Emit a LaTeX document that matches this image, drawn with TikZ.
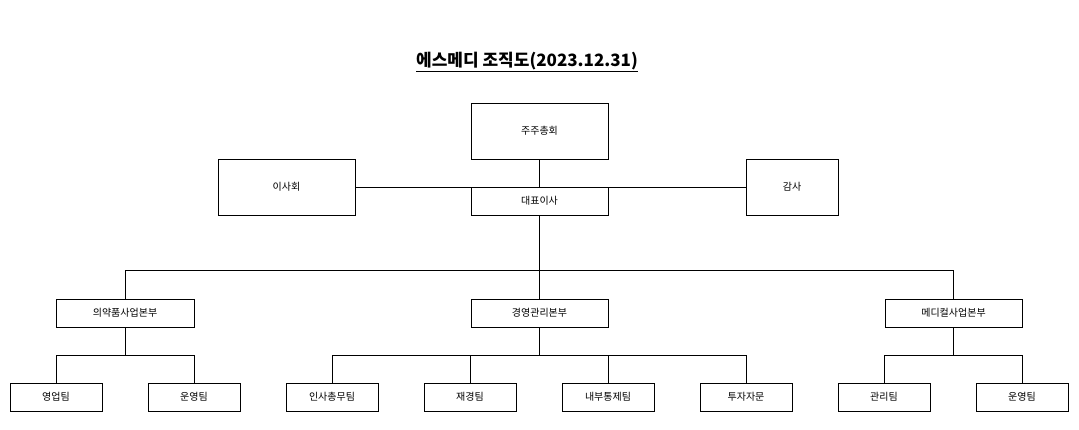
\documentclass[tikz,border=0pt]{standalone}
\usepackage{fontspec}
\setmainfont{Noto Sans CJK KR}
\begin{document}
\begin{tikzpicture}[x=1pt,y=-1pt,
 bx/.style={draw,line width=0.8pt,font=\fontsize{10}{11}\selectfont,inner sep=0pt},
 ln/.style={line width=0.8pt}]
\useasboundingbox (0,0) rectangle (1079,430);
\node (t) at (527,62) {\fontsize{17}{19}\selectfont\bfseries\underline{에스메디 조직도(2023.12.31)}};
\newcommand\bxn[6]{\node[bx,minimum width=#4-#2,minimum height=#5-#3] (#1) at ({(#2+#4)/2},{(#3+#5)/2}) {#6};}
\bxn{a}{471}{103}{608}{159}{주주총회}
\bxn{b}{218}{159}{355}{215}{이사회}
\bxn{c}{746}{159}{838}{215}{감사}
\bxn{d}{471}{187}{608}{215}{대표이사}
\bxn{e}{56}{299}{194}{327}{의약품사업본부}
\bxn{f}{471}{299}{608}{327}{경영관리본부}
\bxn{g}{885}{299}{1022}{327}{메디컬사업본부}
\bxn{h1}{10}{383}{102}{411}{영업팀}
\bxn{h2}{148}{383}{240}{411}{운영팀}
\bxn{h3}{286}{383}{378}{411}{인사총무팀}
\bxn{h4}{424}{383}{516}{411}{재경팀}
\bxn{h5}{562}{383}{654}{411}{내부통제팀}
\bxn{h6}{700}{383}{792}{411}{투자자문}
\bxn{h7}{838}{383}{930}{411}{관리팀}
\bxn{h8}{976}{383}{1068}{411}{운영팀}
\draw[ln] (a.south) -- (d.north);
\draw[ln] (b.east) -- (c.west);
\coordinate (j) at (539.5,270);
\draw[ln] (d.south) -- (j);
\draw[ln] (j) -| (e.north); \draw[ln] (j) -| (g.north); \draw[ln] (j) -- (f.north);
\coordinate (je) at (125,355); \coordinate (jf) at (539.5,355); \coordinate (jg) at (953.5,355);
\draw[ln] (e.south) -- (je) -| (h1.north); \draw[ln] (je) -| (h2.north);
\draw[ln] (f.south) -- (jf) -| (h3.north); \draw[ln] (jf) -| (h4.north);
\draw[ln] (jf) -| (h5.north); \draw[ln] (jf) -| (h6.north);
\draw[ln] (g.south) -- (jg) -| (h7.north); \draw[ln] (jg) -| (h8.north);
\end{tikzpicture}
\end{document}
